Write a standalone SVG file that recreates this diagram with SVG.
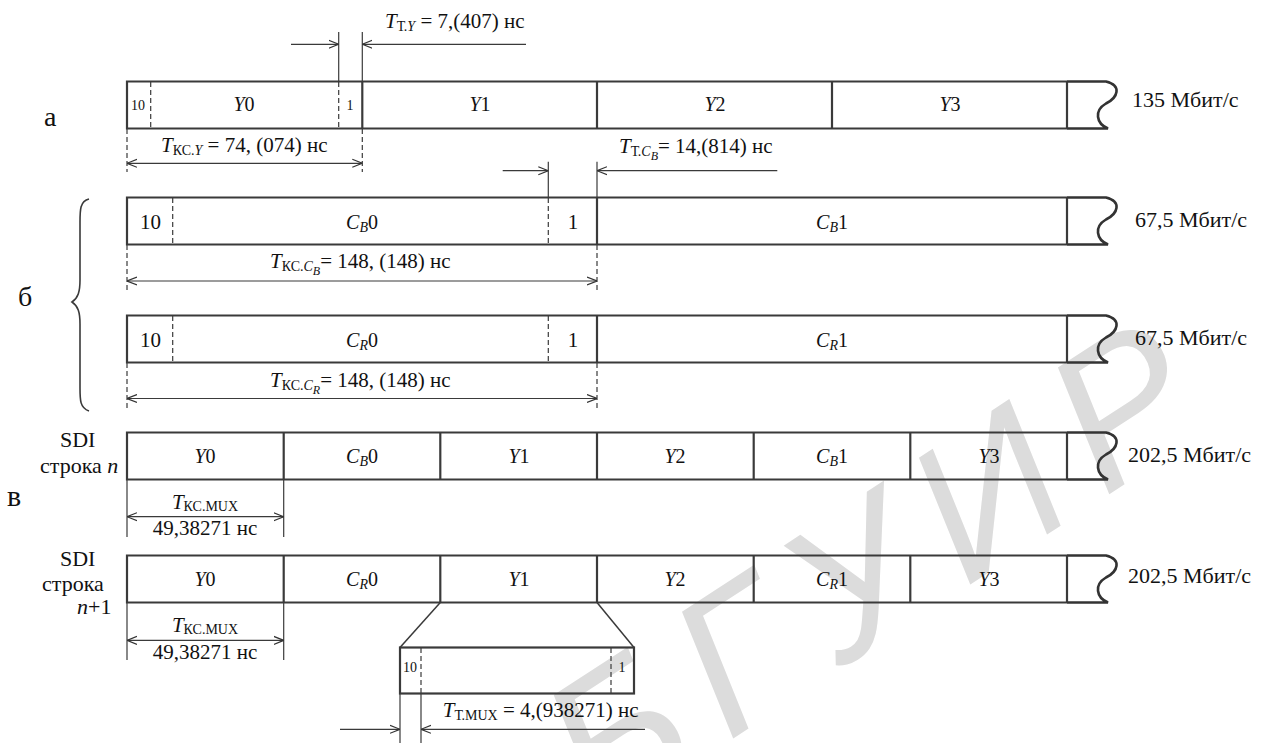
<svg xmlns="http://www.w3.org/2000/svg" xmlns:xlink="http://www.w3.org/1999/xlink" width="1266" height="743" viewBox="0 0 1266 743" font-family="'Liberation Serif', 'Times New Roman', serif">
<style>
text{font-family:"Liberation Serif","Times New Roman",serif;fill:#111;font-size:20px}
.lab{font-size:20px}
.sm{font-size:14px}
.dim{font-size:21px}
.rate{font-size:22px}
.big{font-size:28px}
.side{font-size:22px}
.i{font-style:italic}
.box{fill:none;stroke:#3a3a3a;stroke-width:2.2}
.div{stroke:#3a3a3a;stroke-width:2.2}
.dash{stroke:#3a3a3a;stroke-width:1.2;stroke-dasharray:5,3}
.thin{stroke:#3a3a3a;stroke-width:1.2;fill:none}
.tail{fill:none;stroke:#333;stroke-width:2.6}
.mid{text-anchor:middle}
.wm{font-family:"Liberation Sans",Arial,sans-serif;font-size:195px;fill:#dcdcdc;font-style:italic;letter-spacing:26px}
</style>
<defs>
<marker id="ah" viewBox="0 0 10 10" refX="10" refY="5" markerWidth="10" markerHeight="10" markerUnits="userSpaceOnUse" orient="auto-start-reverse">
<path d="M0,1 L10,5 L0,9" fill="none" stroke="#333" stroke-width="1.2"/>
</marker>
<path id="tail" d="M0,0 H39 C55,4 51,16 39,22 C27,29 29,42 41,47 H0"/>
</defs>

<g id="watermark">
<text class="wm" x="600" y="825" transform="rotate(-33 600 825)">БГУИР</text>
</g>

<g id="labels-left">
<text class="big" x="44" y="126">а</text>
<text class="big" x="18" y="306">б</text>
<text x="7" y="506" style="font-size:30px">в</text>
<path class="thin" style="stroke-width:1.6" d="M89,199 C80,201 80,210 80,222 V280 C80,292 78,298 72,302 C78,306 80,312 80,324 V388 C80,400 80,408 89,411"/>
<text class="side" x="60" y="447">SDI</text>
<text class="side" x="40" y="473">строка <tspan class="i">n</tspan></text>
<text class="side" x="60" y="566">SDI</text>
<text class="side" x="42" y="591">строка</text>
<text class="side" x="77" y="614"><tspan class="i">n</tspan>+1</text>
</g>

<g id="row-a">
<path class="box" d="M1067,81.5 H127 V128.5 H1067"/>
<use xlink:href="#tail" class="tail" x="1067" y="81.5"/>
<line class="dash" x1="150.7" y1="82" x2="150.7" y2="128"/>
<line class="dash" x1="338.7" y1="82" x2="338.7" y2="128"/>
<line class="div" x1="362.3" y1="81.5" x2="362.3" y2="128.5"/>
<line class="div" x1="597" y1="81.5" x2="597" y2="128.5"/>
<line class="div" x1="832" y1="81.5" x2="832" y2="128.5"/>
<line class="div" x1="1067" y1="81.5" x2="1067" y2="128.5"/>
<text class="sm" x="131" y="110">10</text>
<text class="lab mid" x="244" y="111"><tspan class="i">Y</tspan>0</text>
<text class="sm mid" x="350" y="110">1</text>
<text class="lab mid" x="480" y="111"><tspan class="i">Y</tspan>1</text>
<text class="lab mid" x="715" y="111"><tspan class="i">Y</tspan>2</text>
<text class="lab mid" x="950" y="111"><tspan class="i">Y</tspan>3</text>
<text class="rate" x="1132" y="107">135 Мбит/с</text>
</g>

<g id="row-cb">
<path class="box" d="M1067,197.5 H127 V244.5 H1067"/>
<use xlink:href="#tail" class="tail" x="1067" y="197.5"/>
<line class="dash" x1="172.7" y1="198" x2="172.7" y2="244"/>
<line class="dash" x1="548.3" y1="198" x2="548.3" y2="244"/>
<line class="div" x1="597" y1="197.5" x2="597" y2="244.5"/>
<line class="div" x1="1067" y1="197.5" x2="1067" y2="244.5"/>
<text class="dim" x="140" y="229">10</text>
<text class="lab mid" x="362" y="229"><tspan class="i">C</tspan><tspan class="i sm" dy="3">B</tspan><tspan dy="-3">0</tspan></text>
<text class="dim mid" x="573" y="229">1</text>
<text class="lab mid" x="832" y="229"><tspan class="i">C</tspan><tspan class="i sm" dy="3">B</tspan><tspan dy="-3">1</tspan></text>
<text class="rate" x="1135" y="227">67,5 Мбит/с</text>
</g>

<g id="row-cr">
<path class="box" d="M1067,315.5 H127 V362.5 H1067"/>
<use xlink:href="#tail" class="tail" x="1067" y="315.5"/>
<line class="dash" x1="172.7" y1="316" x2="172.7" y2="362"/>
<line class="dash" x1="548.3" y1="316" x2="548.3" y2="362"/>
<line class="div" x1="597" y1="315.5" x2="597" y2="362.5"/>
<line class="div" x1="1067" y1="315.5" x2="1067" y2="362.5"/>
<text class="dim" x="140" y="347">10</text>
<text class="lab mid" x="362" y="347"><tspan class="i">C</tspan><tspan class="i sm" dy="3">R</tspan><tspan dy="-3">0</tspan></text>
<text class="dim mid" x="573" y="347">1</text>
<text class="lab mid" x="832" y="347"><tspan class="i">C</tspan><tspan class="i sm" dy="3">R</tspan><tspan dy="-3">1</tspan></text>
<text class="rate" x="1135" y="345">67,5 Мбит/с</text>
</g>

<g id="row-sdi-n">
<path class="box" d="M1067,432.5 H127 V479.5 H1067"/>
<use xlink:href="#tail" class="tail" x="1067" y="432.5"/>
<line class="div" x1="283.7" y1="432.5" x2="283.7" y2="479.5"/>
<line class="div" x1="440.3" y1="432.5" x2="440.3" y2="479.5"/>
<line class="div" x1="597" y1="432.5" x2="597" y2="479.5"/>
<line class="div" x1="753.7" y1="432.5" x2="753.7" y2="479.5"/>
<line class="div" x1="910.3" y1="432.5" x2="910.3" y2="479.5"/>
<line class="div" x1="1067" y1="432.5" x2="1067" y2="479.5"/>
<text class="lab mid" x="205" y="463"><tspan class="i">Y</tspan>0</text>
<text class="lab mid" x="362" y="463"><tspan class="i">C</tspan><tspan class="i sm" dy="3">B</tspan><tspan dy="-3">0</tspan></text>
<text class="lab mid" x="519" y="463"><tspan class="i">Y</tspan>1</text>
<text class="lab mid" x="675" y="463"><tspan class="i">Y</tspan>2</text>
<text class="lab mid" x="832" y="463"><tspan class="i">C</tspan><tspan class="i sm" dy="3">B</tspan><tspan dy="-3">1</tspan></text>
<text class="lab mid" x="989" y="463"><tspan class="i">Y</tspan>3</text>
<text class="rate" x="1128" y="462">202,5 Мбит/с</text>
</g>

<g id="row-sdi-n1">
<path class="box" d="M1067,555.5 H127 V602.5 H1067"/>
<use xlink:href="#tail" class="tail" x="1067" y="555.5"/>
<line class="div" x1="283.7" y1="555.5" x2="283.7" y2="602.5"/>
<line class="div" x1="440.3" y1="555.5" x2="440.3" y2="602.5"/>
<line class="div" x1="597" y1="555.5" x2="597" y2="602.5"/>
<line class="div" x1="753.7" y1="555.5" x2="753.7" y2="602.5"/>
<line class="div" x1="910.3" y1="555.5" x2="910.3" y2="602.5"/>
<line class="div" x1="1067" y1="555.5" x2="1067" y2="602.5"/>
<text class="lab mid" x="205" y="586"><tspan class="i">Y</tspan>0</text>
<text class="lab mid" x="362" y="586"><tspan class="i">C</tspan><tspan class="i sm" dy="3">R</tspan><tspan dy="-3">0</tspan></text>
<text class="lab mid" x="519" y="586"><tspan class="i">Y</tspan>1</text>
<text class="lab mid" x="675" y="586"><tspan class="i">Y</tspan>2</text>
<text class="lab mid" x="832" y="586"><tspan class="i">C</tspan><tspan class="i sm" dy="3">R</tspan><tspan dy="-3">1</tspan></text>
<text class="lab mid" x="989" y="586"><tspan class="i">Y</tspan>3</text>
<text class="rate" x="1128" y="583">202,5 Мбит/с</text>
</g>

<g id="word-zoom">
<rect class="box" x="400" y="647.5" width="234" height="46"/>
<line class="dash" x1="421" y1="648" x2="421" y2="693"/>
<line class="dash" x1="611" y1="648" x2="611" y2="693"/>
<text class="sm" x="403" y="672">10</text>
<text class="sm mid" x="622" y="672">1</text>
</g>

<g id="connectors">
<line class="thin" x1="338.7" y1="32" x2="338.7" y2="82"/>
<line class="thin" x1="362.3" y1="32" x2="362.3" y2="82"/>
<line class="thin" x1="291" y1="44.3" x2="338.7" y2="44.3" marker-end="url(#ah)"/>
<line class="thin" x1="526" y1="44.3" x2="362.3" y2="44.3" marker-end="url(#ah)"/>
<line class="dash" x1="127" y1="129" x2="127" y2="172"/>
<line class="dash" x1="362.3" y1="129" x2="362.3" y2="172"/>
<line class="thin" x1="127" y1="163.3" x2="362.3" y2="163.3" marker-start="url(#ah)" marker-end="url(#ah)"/>
<line class="thin" x1="548.3" y1="161.7" x2="548.3" y2="198"/>
<line class="thin" x1="597" y1="161.7" x2="597" y2="198"/>
<line class="thin" x1="502.7" y1="170.7" x2="548.3" y2="170.7" marker-end="url(#ah)"/>
<line class="thin" x1="777.3" y1="170.7" x2="597" y2="170.7" marker-end="url(#ah)"/>
<line class="dash" x1="127" y1="245" x2="127" y2="291"/>
<line class="dash" x1="597" y1="245" x2="597" y2="291"/>
<line class="thin" x1="127" y1="281" x2="597" y2="281" marker-start="url(#ah)" marker-end="url(#ah)"/>
<line class="dash" x1="127" y1="363" x2="127" y2="410"/>
<line class="dash" x1="597" y1="363" x2="597" y2="410"/>
<line class="thin" x1="127" y1="398.5" x2="597" y2="398.5" marker-start="url(#ah)" marker-end="url(#ah)"/>
<line class="thin" x1="127" y1="480" x2="127" y2="537"/>
<line class="thin" x1="283.7" y1="480" x2="283.7" y2="537"/>
<line class="thin" x1="127" y1="516.7" x2="283.7" y2="516.7" marker-start="url(#ah)" marker-end="url(#ah)"/>
<line class="thin" x1="127" y1="603" x2="127" y2="660"/>
<line class="thin" x1="283.7" y1="603" x2="283.7" y2="660"/>
<line class="thin" x1="127" y1="640.4" x2="283.7" y2="640.4" marker-start="url(#ah)" marker-end="url(#ah)"/>
<line class="thin" style="stroke-width:1.5" x1="440.3" y1="602.5" x2="400" y2="647.5"/>
<line class="thin" style="stroke-width:1.5" x1="597" y1="602.5" x2="634" y2="647.5"/>
<line class="thin" x1="400" y1="694" x2="400" y2="743"/>
<line class="thin" x1="421" y1="694" x2="421" y2="743"/>
<line class="thin" x1="340" y1="729.3" x2="400" y2="729.3" marker-end="url(#ah)"/>
<line class="thin" x1="645" y1="729.3" x2="421" y2="729.3" marker-end="url(#ah)"/>
</g>

<g id="dim-labels">
<text class="dim" x="385" y="28"><tspan class="i">T</tspan><tspan class="sm" dy="3">Т.</tspan><tspan class="sm i">Y</tspan><tspan dy="-3"> = 7,(407) нс</tspan></text>
<text class="dim" x="161" y="151.7"><tspan class="i">T</tspan><tspan class="sm" dy="3">КС.</tspan><tspan class="sm i">Y</tspan><tspan dy="-3"> = 74, (074) нс</tspan></text>
<text class="dim" x="619" y="152.7"><tspan class="i">T</tspan><tspan class="sm" dy="3">Т.</tspan><tspan class="sm i">C</tspan><tspan class="i" style="font-size:12px" dy="4">B</tspan><tspan dy="-7">= 14,(814) нс</tspan></text>
<text class="dim" x="270" y="268.3"><tspan class="i">T</tspan><tspan class="sm" dy="3">КС.</tspan><tspan class="sm i">C</tspan><tspan class="i" style="font-size:12px" dy="4">B</tspan><tspan dy="-7">= 148, (148) нс</tspan></text>
<text class="dim" x="270" y="386.7"><tspan class="i">T</tspan><tspan class="sm" dy="3">КС.</tspan><tspan class="sm i">C</tspan><tspan class="i" style="font-size:12px" dy="4">R</tspan><tspan dy="-7">= 148, (148) нс</tspan></text>
<text class="dim mid" x="205" y="508.5"><tspan class="i">T</tspan><tspan class="sm" dy="2">КС.MUX</tspan></text>
<text class="dim mid" x="205" y="535">49,38271 нс</text>
<text class="dim mid" x="205" y="632.2"><tspan class="i">T</tspan><tspan class="sm" dy="2">КС.MUX</tspan></text>
<text class="dim mid" x="205" y="658.7">49,38271 нс</text>
<text class="dim" x="442.7" y="716.7"><tspan class="i">T</tspan><tspan class="sm" dy="3">Т.MUX</tspan><tspan dy="-3"> = 4,(938271) нс</tspan></text>
</g>
</svg>
